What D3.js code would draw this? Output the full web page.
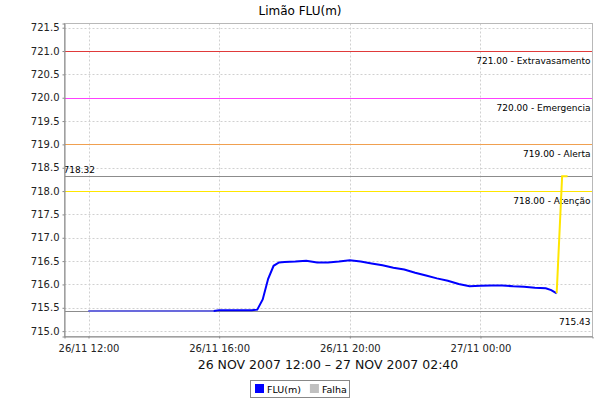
<!DOCTYPE html>
<html><head><meta charset="utf-8">
<script src="https://cdn.jsdelivr.net/npm/d3@7"></script>
<style>body{margin:0;background:#fff}svg{display:block}text{font-family:"DejaVu Sans",sans-serif}</style>
</head><body><svg id="c" width="600" height="400"></svg>
<script>
const times = ["2007-11-26T12:00","2007-11-26T12:20","2007-11-26T12:40","2007-11-26T13:00","2007-11-26T13:20","2007-11-26T13:40","2007-11-26T14:00","2007-11-26T14:20","2007-11-26T14:40","2007-11-26T15:00","2007-11-26T15:20","2007-11-26T15:40","2007-11-26T15:50","2007-11-26T16:00","2007-11-26T16:20","2007-11-26T16:40","2007-11-26T17:00","2007-11-26T17:10","2007-11-26T17:20","2007-11-26T17:30","2007-11-26T17:40","2007-11-26T17:50","2007-11-26T18:00","2007-11-26T18:20","2007-11-26T18:40","2007-11-26T19:00","2007-11-26T19:20","2007-11-26T19:40","2007-11-26T20:00","2007-11-26T20:20","2007-11-26T20:40","2007-11-26T21:00","2007-11-26T21:20","2007-11-26T21:40","2007-11-26T22:00","2007-11-26T22:20","2007-11-26T22:40","2007-11-26T23:00","2007-11-26T23:20","2007-11-26T23:40","2007-11-27T00:00","2007-11-27T00:20","2007-11-27T00:40","2007-11-27T01:00","2007-11-27T01:20","2007-11-27T01:40","2007-11-27T02:00","2007-11-27T02:10","2007-11-27T02:20"];
const fluValues = [715.43,715.43,715.43,715.43,715.43,715.43,715.43,715.43,715.43,715.43,715.43,715.43,715.43,715.45,715.45,715.45,715.45,715.46,715.68,716.12,716.40,716.47,716.48,716.49,716.51,716.47,716.47,716.49,716.52,716.49,716.45,716.41,716.36,716.32,716.25,716.19,716.13,716.08,716.01,715.96,715.97,715.98,715.98,715.96,715.95,715.93,715.92,715.88,715.81];
const falhaTimes = ["2007-11-26T12:00","2007-11-26T15:50"];
const lastTimes = ["2007-11-27T02:20","2007-11-27T02:30","2007-11-27T02:40"];
const lastValues = [715.81,718.32,718.32];
const markerValues = [721.0,720.0,719.0,718.0];
const markerLabels = ["721.00 - Extravasamento","720.00 - Emergencia","719.00 - Alerta","718.00 - Atenção"];
const markerColors = ["#e03a3a","#ff40ff","#f0a050","#ffe600"];
const currentValue = 718.32, minValue = 715.43;
const xTickTimes = ["2007-11-26T12:00","2007-11-26T16:00","2007-11-26T20:00","2007-11-27T00:00"];
const xTickLabels = ["26/11 12:00","26/11 16:00","26/11 20:00","27/11 00:00"];
const yTicks = [715.0,715.5,716.0,716.5,717.0,717.5,718.0,718.5,719.0,719.5,720.0,720.5,721.0,721.5];
const title = "Limão FLU(m)";
const subtitle = "26 NOV 2007 12:00 – 27 NOV 2007 02:40";
const legendItems = [["FLU(m)","#0000ff"],["Falha","#c0c0c0"]];

const parse = d3.timeParse("%Y-%m-%dT%H:%M");
const svg = d3.select("#c");
const L=64.5, R=592.5, T=23.5, B=336.5;
const x = d3.scaleTime()
  .domain([new Date(parse("2007-11-26T12:00").getTime() - 0.735*3600e3), new Date(parse("2007-11-27T00:00").getTime() + 3.43*3600e3)])
  .range([L,R]);
const y = d3.scaleLinear().domain([714.885, 721.59]).range([B,T]);

// grid
const g = svg.append("g");
g.selectAll(".hg").data(yTicks).join("line").attr("x1",L).attr("x2",R)
 .attr("y1",d=>Math.round(y(d))+0.5).attr("y2",d=>Math.round(y(d))+0.5)
 .attr("stroke","#d0d0d0").attr("stroke-dasharray","2,2");
g.selectAll(".vg").data(xTickTimes).join("line").attr("y1",T).attr("y2",B)
 .attr("x1",d=>Math.round(x(parse(d)))+0.5).attr("x2",d=>Math.round(x(parse(d)))+0.5)
 .attr("stroke","#d0d0d0").attr("stroke-dasharray","2,2");

// markers
markerValues.forEach((v,i)=>{
  const yy=Math.round(y(v))+0.5;
  svg.append("line").attr("x1",L).attr("x2",R).attr("y1",yy).attr("y2",yy).attr("stroke",markerColors[i]).attr("stroke-width",1);
  svg.append("text").attr("x",R-2).attr("y",yy+12).attr("text-anchor","end").attr("font-size",9).attr("fill","#000").text(markerLabels[i]);
});
const yc=Math.round(y(currentValue))+0.5;
svg.append("line").attr("x1",L).attr("x2",R).attr("y1",yc).attr("y2",yc).attr("stroke","#8c8c8c");
svg.append("text").attr("x",L-1).attr("y",yc-4).attr("font-size",9).text(currentValue.toFixed(2));
const ym=Math.round(y(minValue))+0.5;
svg.append("line").attr("x1",L).attr("x2",R).attr("y1",ym).attr("y2",ym).attr("stroke","#8c8c8c");
svg.append("text").attr("x",R-2).attr("y",ym+13).attr("text-anchor","end").attr("font-size",9).text(minValue.toFixed(2));

// series
const line = d3.line().x(d=>x(d[0])).y(d=>y(d[1]));
const flu = times.map((t,i)=>[parse(t),fluValues[i]]);
svg.append("path").attr("d",line(flu)).attr("fill","none").attr("stroke","#0000ff").attr("stroke-width",2);
const f0=parse(falhaTimes[0]), f1=parse(falhaTimes[1]);
const falha = flu.filter(d=>d[0]>=f0 && d[0]<=f1);
svg.append("path").attr("d",line(falha)).attr("fill","none").attr("stroke","#c0c0c0").attr("stroke-opacity",0.55).attr("stroke-width",2);
svg.append("path").attr("d",line(lastTimes.map((t,i)=>[parse(t),lastValues[i]]))).attr("fill","none").attr("stroke","#ffe600").attr("stroke-width",2);

// plot outline
svg.append("rect").attr("x",L).attr("y",T).attr("width",R-L).attr("height",B-T).attr("fill","none").attr("stroke","#b8b8b8");

// axes
const yAxis = d3.axisLeft(y).tickValues(yTicks).tickFormat(d3.format(".1f")).tickSize(2).tickPadding(3);
const ya = svg.append("g").attr("transform",`translate(${L},0)`).call(yAxis);
ya.select(".domain").attr("stroke","#888");
ya.selectAll(".tick line").attr("stroke","#888");
ya.selectAll("text").attr("font-size",10).attr("fill","#222").attr("font-family","DejaVu Sans");
const xAxis = d3.axisBottom(x).tickValues(xTickTimes.map(parse)).tickFormat((d,i)=>xTickLabels[i]).tickSize(2).tickPadding(6);
const xa = svg.append("g").attr("transform",`translate(0,${B})`).call(xAxis);
xa.select(".domain").attr("stroke","#888");
xa.selectAll(".tick line").attr("stroke","#888");
xa.selectAll("text").attr("font-size",10).attr("fill","#222").attr("font-family","DejaVu Sans");

// titles
svg.append("text").attr("x",300).attr("y",15).attr("text-anchor","middle").attr("font-size",12).text(title);
svg.append("text").attr("x",328).attr("y",369).attr("text-anchor","middle").attr("font-size",12.5).attr("fill","#111").text(subtitle);

// legend
const lg = svg.append("g");
lg.append("rect").attr("x",250.5).attr("y",380.5).attr("width",99).attr("height",17).attr("fill","#fff").attr("stroke","#888");
let lx=255;
legendItems.forEach(([lab,col])=>{
  lg.append("rect").attr("x",lx).attr("y",384).attr("width",9).attr("height",9).attr("fill",col);
  const t=lg.append("text").attr("x",lx+12).attr("y",393).attr("font-size",9.5).text(lab);
  lx += 12 + t.node().getComputedTextLength() + 9;
});
</script></body></html>
